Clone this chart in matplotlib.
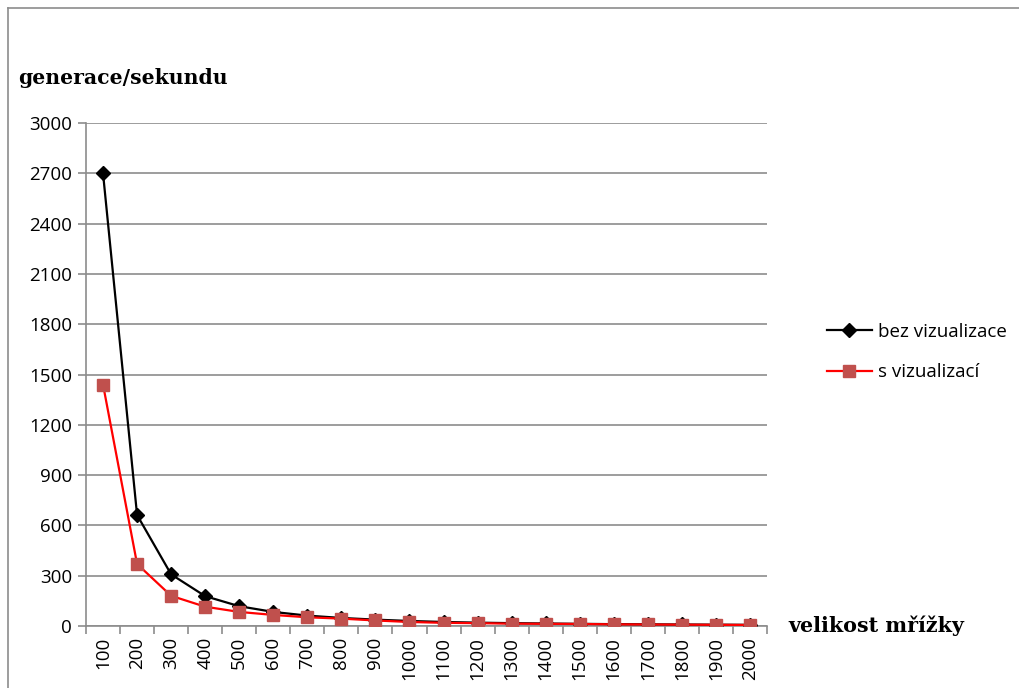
import matplotlib.pyplot as plt
from matplotlib.lines import Line2D

sizes = ["100", "200", "300", "400", "500", "600", "700", "800", "900", "1000",
         "1100", "1200", "1300", "1400", "1500", "1600", "1700", "1800", "1900", "2000"]
bez_vizualizace = [2700, 662, 308, 178, 118, 84, 62, 48, 38, 30,
                   24, 20, 17, 15, 13, 11, 10, 9, 8, 7]
s_vizualizaci = [1440, 370, 180, 115, 84, 66, 52, 44, 33, 24,
                 19, 17, 14, 13, 12, 10, 9, 8, 7, 6]
y_ticks = [0, 300, 600, 900, 1200, 1500, 1800, 2100, 2400, 2700, 3000]

sans = "Open Sans"
serif = "DejaVu Serif"
grey = "#8c8c8c"

fig = plt.figure(figsize=(10.19, 6.88), dpi=100)
ax = fig.add_axes([86 / 1019, 1 - 626 / 688, (767 - 86) / 1019, (626 - 123) / 688])

x = list(range(len(sizes)))
ax.plot(x, bez_vizualizace, color="black", lw=1.6, marker="D", markersize=7,
        label="bez vizualizace", zorder=3)
ax.plot(x, s_vizualizaci, color="#ff0000", lw=1.6, marker="s", markersize=9,
        markerfacecolor="#c0504d", markeredgecolor="#c0504d",
        label="s vizualizací", zorder=4)

ax.set_xlim(-0.5, len(sizes) - 0.5)
ax.set_ylim(0, 3000)
ax.set_yticks(y_ticks)
ax.set_yticklabels([str(v) for v in y_ticks], fontfamily=sans, fontsize=13.5)
ax.yaxis.grid(True, color=grey, lw=1.2)
ax.set_axisbelow(True)

# category labels at the centres, tick marks on the boundaries
ax.set_xticks(x)
ax.set_xticklabels(sizes, rotation=90, fontfamily=sans, fontsize=13.5)
ax.tick_params(axis="x", length=0, pad=8)
ax.set_xticks([i - 0.5 for i in range(len(sizes) + 1)], minor=True)
ax.tick_params(axis="x", which="minor", length=6, color=grey, width=1.2)
ax.tick_params(axis="y", length=6, color=grey, width=1.2, pad=4)

for side in ["top", "right"]:
    ax.spines[side].set_visible(False)
for side in ["left", "bottom"]:
    ax.spines[side].set_color(grey)
    ax.spines[side].set_linewidth(1.2)

fig.text(18 / 1019, 1 - 78 / 688, "generace/sekundu", fontfamily=serif,
         fontweight="bold", fontsize=14.7, va="center", ha="left")
fig.text(788 / 1019, 1 - 626 / 688, "velikost mřížky", fontfamily=serif,
         fontweight="bold", fontsize=14.9, va="center", ha="left")

ax.legend(loc="center left", bbox_to_anchor=(810 / 1019, 1 - 352 / 688),
          bbox_transform=fig.transFigure, frameon=False,
          prop={"family": sans, "size": 13.5}, handlelength=2.4,
          labelspacing=1.2, handletextpad=0.3)

# outer chart frame
fig.add_artist(Line2D([8 / 1019, 1], [1 - 8 / 688, 1 - 8 / 688], color=grey, lw=1.2))
fig.add_artist(Line2D([8 / 1019, 8 / 1019], [1 - 8 / 688, 0], color=grey, lw=1.2))

fig.savefig("out.png", dpi=100)
